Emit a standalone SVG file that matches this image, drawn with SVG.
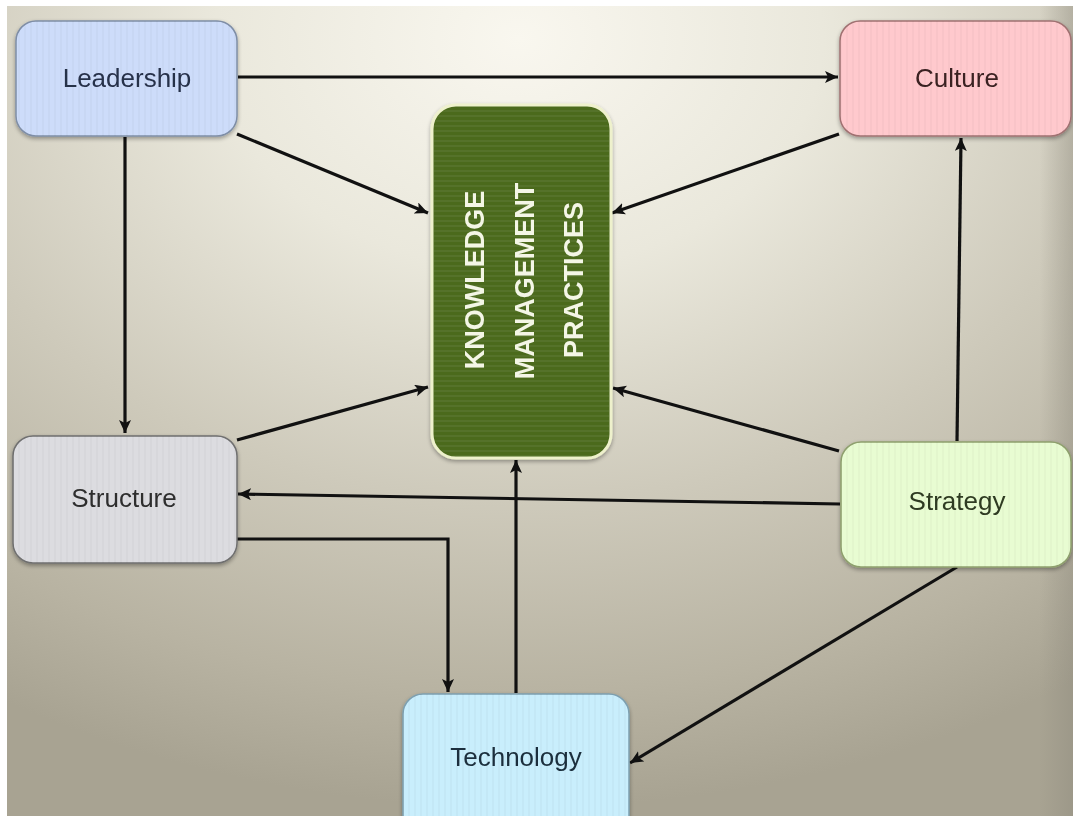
<svg xmlns="http://www.w3.org/2000/svg" width="1073" height="816" viewBox="0 0 1073 816">
  <defs>
    <radialGradient id="bg" cx="48%" cy="4%" r="95%" fx="48%" fy="4%">
      <stop offset="0" stop-color="#f9f7ef"/>
      <stop offset="0.3" stop-color="#eae8dc"/>
      <stop offset="0.6" stop-color="#cecabb"/>
      <stop offset="0.85" stop-color="#b8b3a2"/>
      <stop offset="1" stop-color="#a8a392"/>
    </radialGradient>
    <linearGradient id="edge" x1="0" y1="0" x2="1" y2="0">
      <stop offset="0" stop-color="#8f8b7e" stop-opacity="0"/>
      <stop offset="1" stop-color="#8f8b7e" stop-opacity="0.45"/>
    </linearGradient>
    <pattern id="vstripe" width="6" height="10" patternUnits="userSpaceOnUse">
      <rect x="0" y="0" width="2" height="10" fill="#000" fill-opacity="0.025"/>
    </pattern>
    <pattern id="hstripe" width="10" height="5" patternUnits="userSpaceOnUse">
      <rect x="0" y="0" width="10" height="2" fill="#fff" fill-opacity="0.05"/>
    </pattern>
    <filter id="shadow" x="-10%" y="-10%" width="120%" height="125%">
      <feGaussianBlur in="SourceAlpha" stdDeviation="2"/>
      <feOffset dx="0" dy="2" result="b"/>
      <feComponentTransfer><feFuncA type="linear" slope="0.35"/></feComponentTransfer>
      <feMerge><feMergeNode/><feMergeNode in="SourceGraphic"/></feMerge>
    </filter>
    <marker id="arrow" markerUnits="userSpaceOnUse" markerWidth="16" markerHeight="14" refX="13" refY="6" orient="auto">
      <path d="M0,0 L13,6 L0,12 L3,6 z" fill="#111"/>
    </marker>
    <style>
      .box { stroke-width: 1.5; }
      .label { font-family: "Liberation Sans", Arial, sans-serif; font-size: 26px; text-anchor: middle; }
      .kmp { font-family: "Liberation Sans", Arial, sans-serif; font-size: 27px; font-weight: bold; fill: #f4f6e6; text-anchor: middle; }
      .conn { fill: none; stroke: #111; stroke-width: 3.2; marker-end: url(#arrow); }
    </style>
  </defs>

  <!-- canvas -->
  <rect x="0" y="0" width="1073" height="816" fill="#ffffff"/>
  <rect x="7" y="6" width="1066" height="810" fill="url(#bg)"/>
  <rect x="1040" y="6" width="33" height="810" fill="url(#edge)"/>

  <!-- connectors -->
  <g id="connectors">
    <path class="conn" d="M238,77 L838,77"/>
    <path class="conn" d="M237,134 L428,213"/>
    <path class="conn" d="M839,134 L612,213"/>
    <path class="conn" d="M125,137 L125,433"/>
    <path class="conn" d="M237,440 L428,387"/>
    <path class="conn" d="M839,451 L613,388"/>
    <path class="conn" d="M957,441 L961,138"/>
    <path class="conn" d="M840,504 L238,494"/>
    <path class="conn" d="M237,539 L448,539 L448,692"/>
    <path class="conn" d="M516,693 L516,460"/>
    <path class="conn" d="M957,567 L630,763"/>
  </g>

  <g id="leadership" filter="url(#shadow)">
    <rect class="box" x="16" y="21" width="221" height="115" rx="20" fill="#cddcfa" stroke="#7f8ea6"/>
    <rect x="16" y="21" width="221" height="115" rx="20" fill="url(#vstripe)"/>
    <text class="label" x="127" y="87" fill="#27304a">Leadership</text>
  </g>

  <g id="culture" filter="url(#shadow)">
    <rect class="box" x="840" y="21" width="231" height="115" rx="20" fill="#ffc9cd" stroke="#a07272"/>
    <rect x="840" y="21" width="231" height="115" rx="20" fill="url(#vstripe)"/>
    <text class="label" x="957" y="87" fill="#3a2222">Culture</text>
  </g>

  <g id="kmp" filter="url(#shadow)">
    <rect x="432" y="105" width="179" height="353" rx="24" fill="#4b6a1d" stroke="#eef1cc" stroke-width="3"/>
    <rect x="434" y="107" width="175" height="349" rx="22" fill="url(#hstripe)"/>
    <text class="kmp" transform="translate(484,280) rotate(-90)">KNOWLEDGE</text>
    <text class="kmp" transform="translate(534,281) rotate(-90)">MANAGEMENT</text>
    <text class="kmp" transform="translate(583,280) rotate(-90)">PRACTICES</text>
  </g>

  <g id="structure" filter="url(#shadow)">
    <rect class="box" x="13" y="436" width="224" height="127" rx="20" fill="#dcdce0" stroke="#6f6f6f"/>
    <rect x="13" y="436" width="224" height="127" rx="20" fill="url(#vstripe)"/>
    <text class="label" x="124" y="507" fill="#2e2e2e">Structure</text>
  </g>

  <g id="strategy" filter="url(#shadow)">
    <rect class="box" x="841" y="442" width="230" height="125" rx="20" fill="#e8fcd2" stroke="#8fa06e"/>
    <rect x="841" y="442" width="230" height="125" rx="20" fill="url(#vstripe)"/>
    <text class="label" x="957" y="510" fill="#2f3a22">Strategy</text>
  </g>

  <g id="technology" filter="url(#shadow)">
    <rect class="box" x="403" y="694" width="226" height="150" rx="20" fill="#c9eefc" stroke="#7ea0b0"/>
    <rect x="403" y="694" width="226" height="150" rx="20" fill="url(#vstripe)"/>
    <text class="label" x="516" y="766" fill="#1c2f3c">Technology</text>
  </g>
</svg>
